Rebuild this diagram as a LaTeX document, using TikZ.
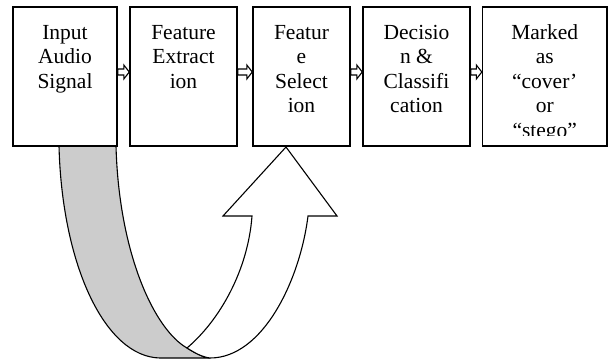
\documentclass[tikz,border=0pt]{standalone}
\usepackage{fontspec}
\setmainfont{Liberation Serif}
\usetikzlibrary{calc}

\tikzset{
  stage/.style={draw=black, line width=1.4pt, fill=white, inner sep=0pt,
                minimum height=139pt},
  stagetext/.style={anchor=north, inner sep=0pt, align=center,
                    font=\fontsize{21.5}{24.5}\selectfont},
  flowarrow/.style={draw=black, line width=1.1pt, fill=white},
  bandback/.style={draw=black, line width=1.1pt, fill=black!20},
  bandfront/.style={draw=black, line width=1.1pt, fill=white},
}
\newcommand{\firstline}{\rule{0pt}{15.5pt}}

\begin{document}
\begin{tikzpicture}[x=1pt, y=-1pt]
  \useasboundingbox (0,0) rectangle (608,361);

  % curved feedback arrow: shaded back of the band, then the white front with its head
  \path[bandback] (59,146) .. controls (62,265) and (105,357) .. (160,358)
        -- (210,358) .. controls (202,357) and (195,353) .. (187,348)
        .. controls (155,330) and (119,255) .. (116,146) -- cycle;
  \path[bandfront] (210,358) .. controls (263,358) and (300,280) .. (308,216)
        -- (337,216) -- (286,147) -- (223,216) -- (252,216)
        .. controls (248,270) and (220,320) .. (187,348)
        .. controls (195,353) and (202,357) .. (210,358) -- cycle;

  % processing stages
  \node[stage, minimum width=104pt]   (b1) at (65,76.5)    {};
  \node[stage, minimum width=107pt]   (b2) at (183.5,76.5) {};
  \node[stage, minimum width=97pt]    (b3) at (301.5,76.5) {};
  \node[stage, minimum width=107pt]   (b4) at (416.5,76.5) {};
  \node[stage, minimum width=124.5pt] (b5) at (544.75,76.5) {};

  \node[stagetext] (t1) at (65,23.5)    {\firstline Input\\Audio\\Signal};
  \node[stagetext] (t2) at (183.5,23.5) {\firstline Feature\\Extract\\ion};
  \node[stagetext] (t3) at (301.5,23.5) {\firstline Featur\\e\\Select\\ion};
  \node[stagetext] (t4) at (416.5,23.5) {\firstline Decisio\\n \&\\Classifi\\cation};
  \begin{scope}
    \clip (483,8) rectangle (606,135);
    \node[stagetext] (t5) at (544.75,23.5) {\firstline Marked\\as\\“cover’\\or\\“stego”};
  \end{scope}

  % block arrows between neighbouring stages
  \foreach \a/\b in {b1/b2, b2/b3, b3/b4, b4/b5} {
    \path[flowarrow] let \p1=(\a.east), \p2=(\b.west) in
      (\x1,{\y1+7.5pt}) -- ({\x2-5.5pt},{\y1+7.5pt}) -- ({\x2-5.5pt},{\y1+11.5pt})
      -- (\x2,{\y1+4.5pt}) -- ({\x2-5.5pt},{\y1-2.5pt}) -- ({\x2-5.5pt},{\y1+1.5pt})
      -- (\x1,{\y1+1.5pt}) -- cycle;
  }
\end{tikzpicture}
\end{document}
